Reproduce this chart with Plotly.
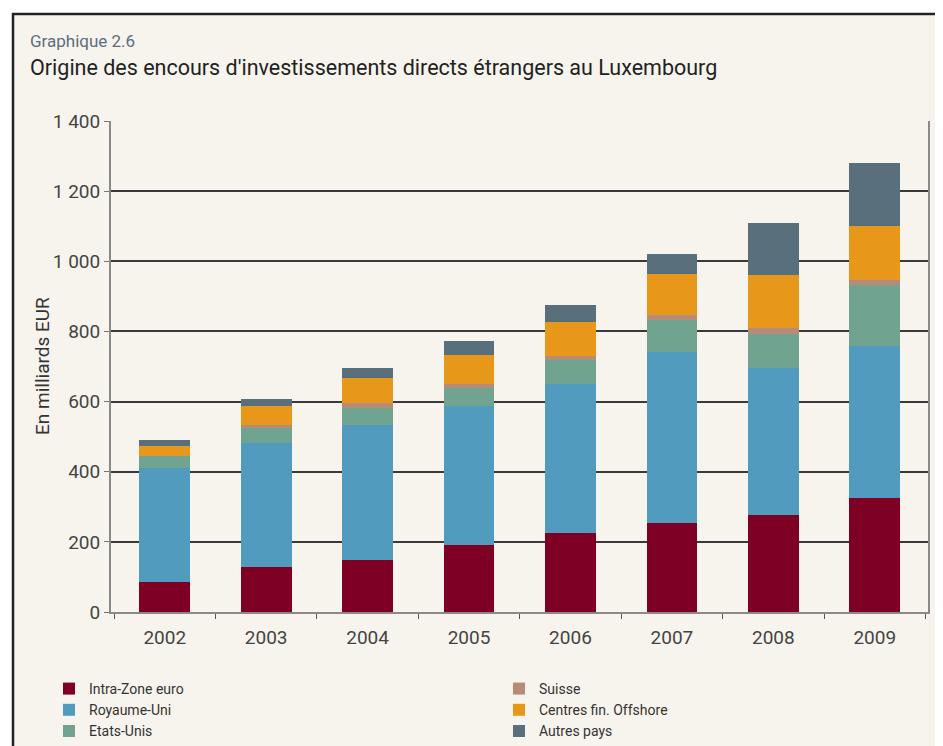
import plotly.graph_objects as go

# Data (milliards EUR)
years = ["2002", "2003", "2004", "2005", "2006", "2007", "2008", "2009"]
intra_zone_euro = [86, 128, 147, 190, 224, 253, 278, 324]
royaume_uni = [324, 353, 385, 396, 426, 488, 419, 434]
etats_unis = [35, 43, 51, 54, 68, 91, 97, 173]
suisse = [1, 8, 12, 9, 12, 14, 17, 17]
offshore = [27, 54, 71, 85, 98, 119, 151, 154]
autres_pays = [17, 20, 31, 40, 46, 55, 146, 177]

y_ticks = [0, 200, 400, 600, 800, 1000, 1200, 1400]

series = [
    ("Intra-Zone euro", intra_zone_euro, "#7F0025", 1),
    ("Royaume-Uni", royaume_uni, "#519CBE", 3),
    ("Etats-Unis", etats_unis, "#70A491", 5),
    ("Suisse", suisse, "#B88C74", 2),
    ("Centres fin. Offshore", offshore, "#E7981A", 4),
    ("Autres pays", autres_pays, "#596F7B", 6),
]

# page has an 8px body margin, so figure pixel = page pixel - 8
# (figure is a bit larger than the window so the wide legend is not clamped)
OFF = 8
W, H = 990, 760
L, R, T, B = 103, 70, 113, 156
pw, ph = W - L - R, H - T - B


def px_x(x):
    return (x - OFF - L) / pw


def px_y(y):
    return (H - B - (y - OFF)) / ph


FONT = "Roboto"
CREAM = "#F7F4ED"

fig = go.Figure()
for name, vals, color, rank in series:
    fig.add_trace(go.Bar(
        x=years, y=vals, name=name, legendrank=rank,
        marker=dict(color=color, line=dict(width=0)),
    ))

fig.update_layout(
    width=W, height=H,
    margin=dict(l=L, r=R, t=T, b=B),
    barmode="stack", bargap=0.5,
    paper_bgcolor="white", plot_bgcolor=CREAM,
    separators=", ",
    font=dict(family=FONT, color="#444"),
    showlegend=True,
    legend=dict(
        orientation="h", entrywidth=405, entrywidthmode="pixels",
        traceorder="normal",
        x=px_x(49), xanchor="left", y=px_y(673), yanchor="top",
        font=dict(size=14, color="#333"), bgcolor="rgba(0,0,0,0)",
    ),
    shapes=[dict(
        type="rect", xref="paper", yref="paper", layer="below",
        x0=px_x(13), x1=px_x(1010), y0=px_y(800), y1=px_y(14),
        fillcolor=CREAM, line=dict(color="#222", width=2.5),
    )],
    annotations=[
        dict(text="Graphique 2.6", xref="paper", yref="paper",
             x=px_x(28), y=px_y(41), xanchor="left", yanchor="middle",
             showarrow=False, font=dict(size=17, color="#5B6E7E")),
        dict(text="Origine des encours d'investissements directs étrangers au Luxembourg",
             xref="paper", yref="paper",
             x=px_x(28), y=px_y(67), xanchor="left", yanchor="middle",
             showarrow=False, font=dict(size=21.5, color="#222")),
        dict(text="En milliards EUR", xref="paper", yref="paper",
             x=px_x(42), y=px_y(366), xanchor="center", yanchor="middle",
             textangle=-90, showarrow=False, font=dict(size=19, color="#333")),
    ],
)

fig.update_xaxes(
    range=[-0.53, 7.525],
    showline=True, linecolor="#8a8a8a", linewidth=2,
    ticks="outside", tickson="boundaries", ticklen=5, tickcolor="#555",
    ticklabelstandoff=7,
    tickfont=dict(size=19, color="#444"), showgrid=False,
)
fig.update_yaxes(
    range=[0, 1400], tickvals=y_ticks, tickformat=",d",
    showline=True, linecolor="#8a8a8a", linewidth=2, mirror=True,
    ticks="outside", ticklen=5, tickcolor="#777",
    tickfont=dict(size=19, color="#444"),
    showgrid=True, gridcolor="#3a3a3a", gridwidth=1.5,
    zeroline=False,
)

fig.write_html("out.html")
